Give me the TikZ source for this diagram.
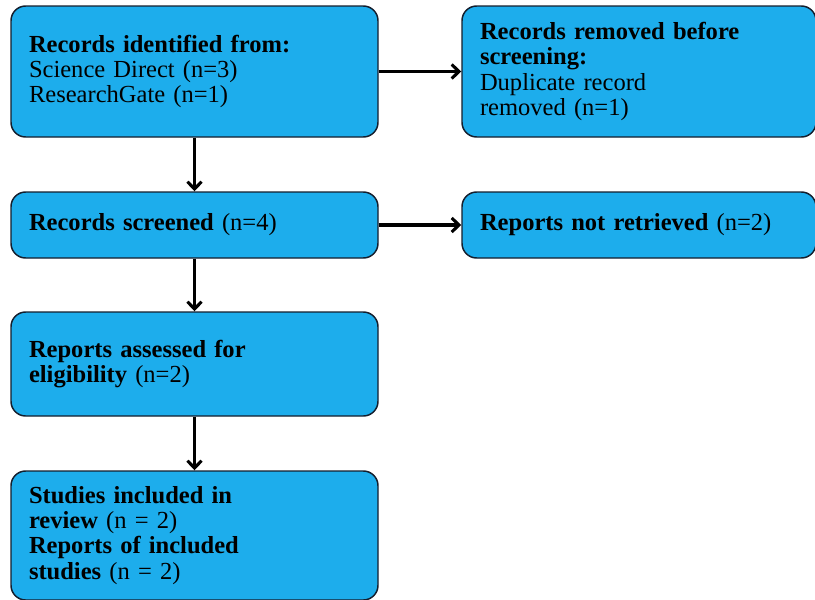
\documentclass[tikz,border=0pt]{standalone}
\usepackage{fontspec}
\setmainfont{Liberation Serif}
\usepackage{tikz}
\usetikzlibrary{arrows.meta}
\definecolor{boxblue}{RGB}{29,173,236}
\definecolor{boxline}{RGB}{20,30,45}
\tikzset{>={Straight Barb[length=5.5pt,width=10.5pt]}}
\tikzset{
  flowbox/.style={draw=boxline, line width=1.1pt, fill=boxblue, rounded corners=11pt,
    align=left, inner xsep=13.5pt, inner ysep=0pt, text=black,
    font=\fontsize{18.4}{18.8}\selectfont},
  leftbox/.style={flowbox, text width=248.25pt, minimum width=275.25pt},
  rightbox/.style={flowbox, text width=238.5pt, minimum width=265.5pt},
  flowarrow/.style={->, line width=2.3pt}
}

\begin{document}
\begin{tikzpicture}[x=0.75pt,y=-0.75pt]
    \useasboundingbox (0,0) rectangle (815,600);
    % left column
    \node[leftbox, minimum height=98.25pt] (ident) at (194.5,71.5)
        {\textbf{Records identified from:}\\Science Direct (n=3)\\ResearchGate (n=1)};
    \node[leftbox, minimum height=49.5pt] (screened) at (194.5,225)
        {\textbf{Records screened} (n=4)};
    \node[leftbox, minimum height=78pt] (assessed) at (194.5,364)
        {\textbf{Reports assessed for}\\\textbf{eligibility} (n=2)};
    \node[leftbox, minimum height=96.75pt] (included) at (194.5,535.5)
        {\textbf{Studies included in}\\\textbf{review} (n = 2)\\\textbf{Reports of included}\\\textbf{studies} (n = 2)};
    % right column
    \node[rightbox, minimum height=98.25pt] (removed) at (639,71.5)
        {\textbf{Records removed before}\\\textbf{screening:}\\Duplicate record\\removed (n=1)};
    \node[rightbox, minimum height=49.5pt] (notretr) at (639,225)
        {\textbf{Reports not retrieved} (n=2)};
    % arrows down
    \draw[flowarrow] (ident) -- (screened);
    \draw[flowarrow] (screened) -- (assessed);
    \draw[flowarrow] (assessed) -- (included);
    % arrows right
    \draw[flowarrow] (ident) -- (removed);
    \draw[flowarrow] (screened) -- (notretr);
\end{tikzpicture}
\end{document}
